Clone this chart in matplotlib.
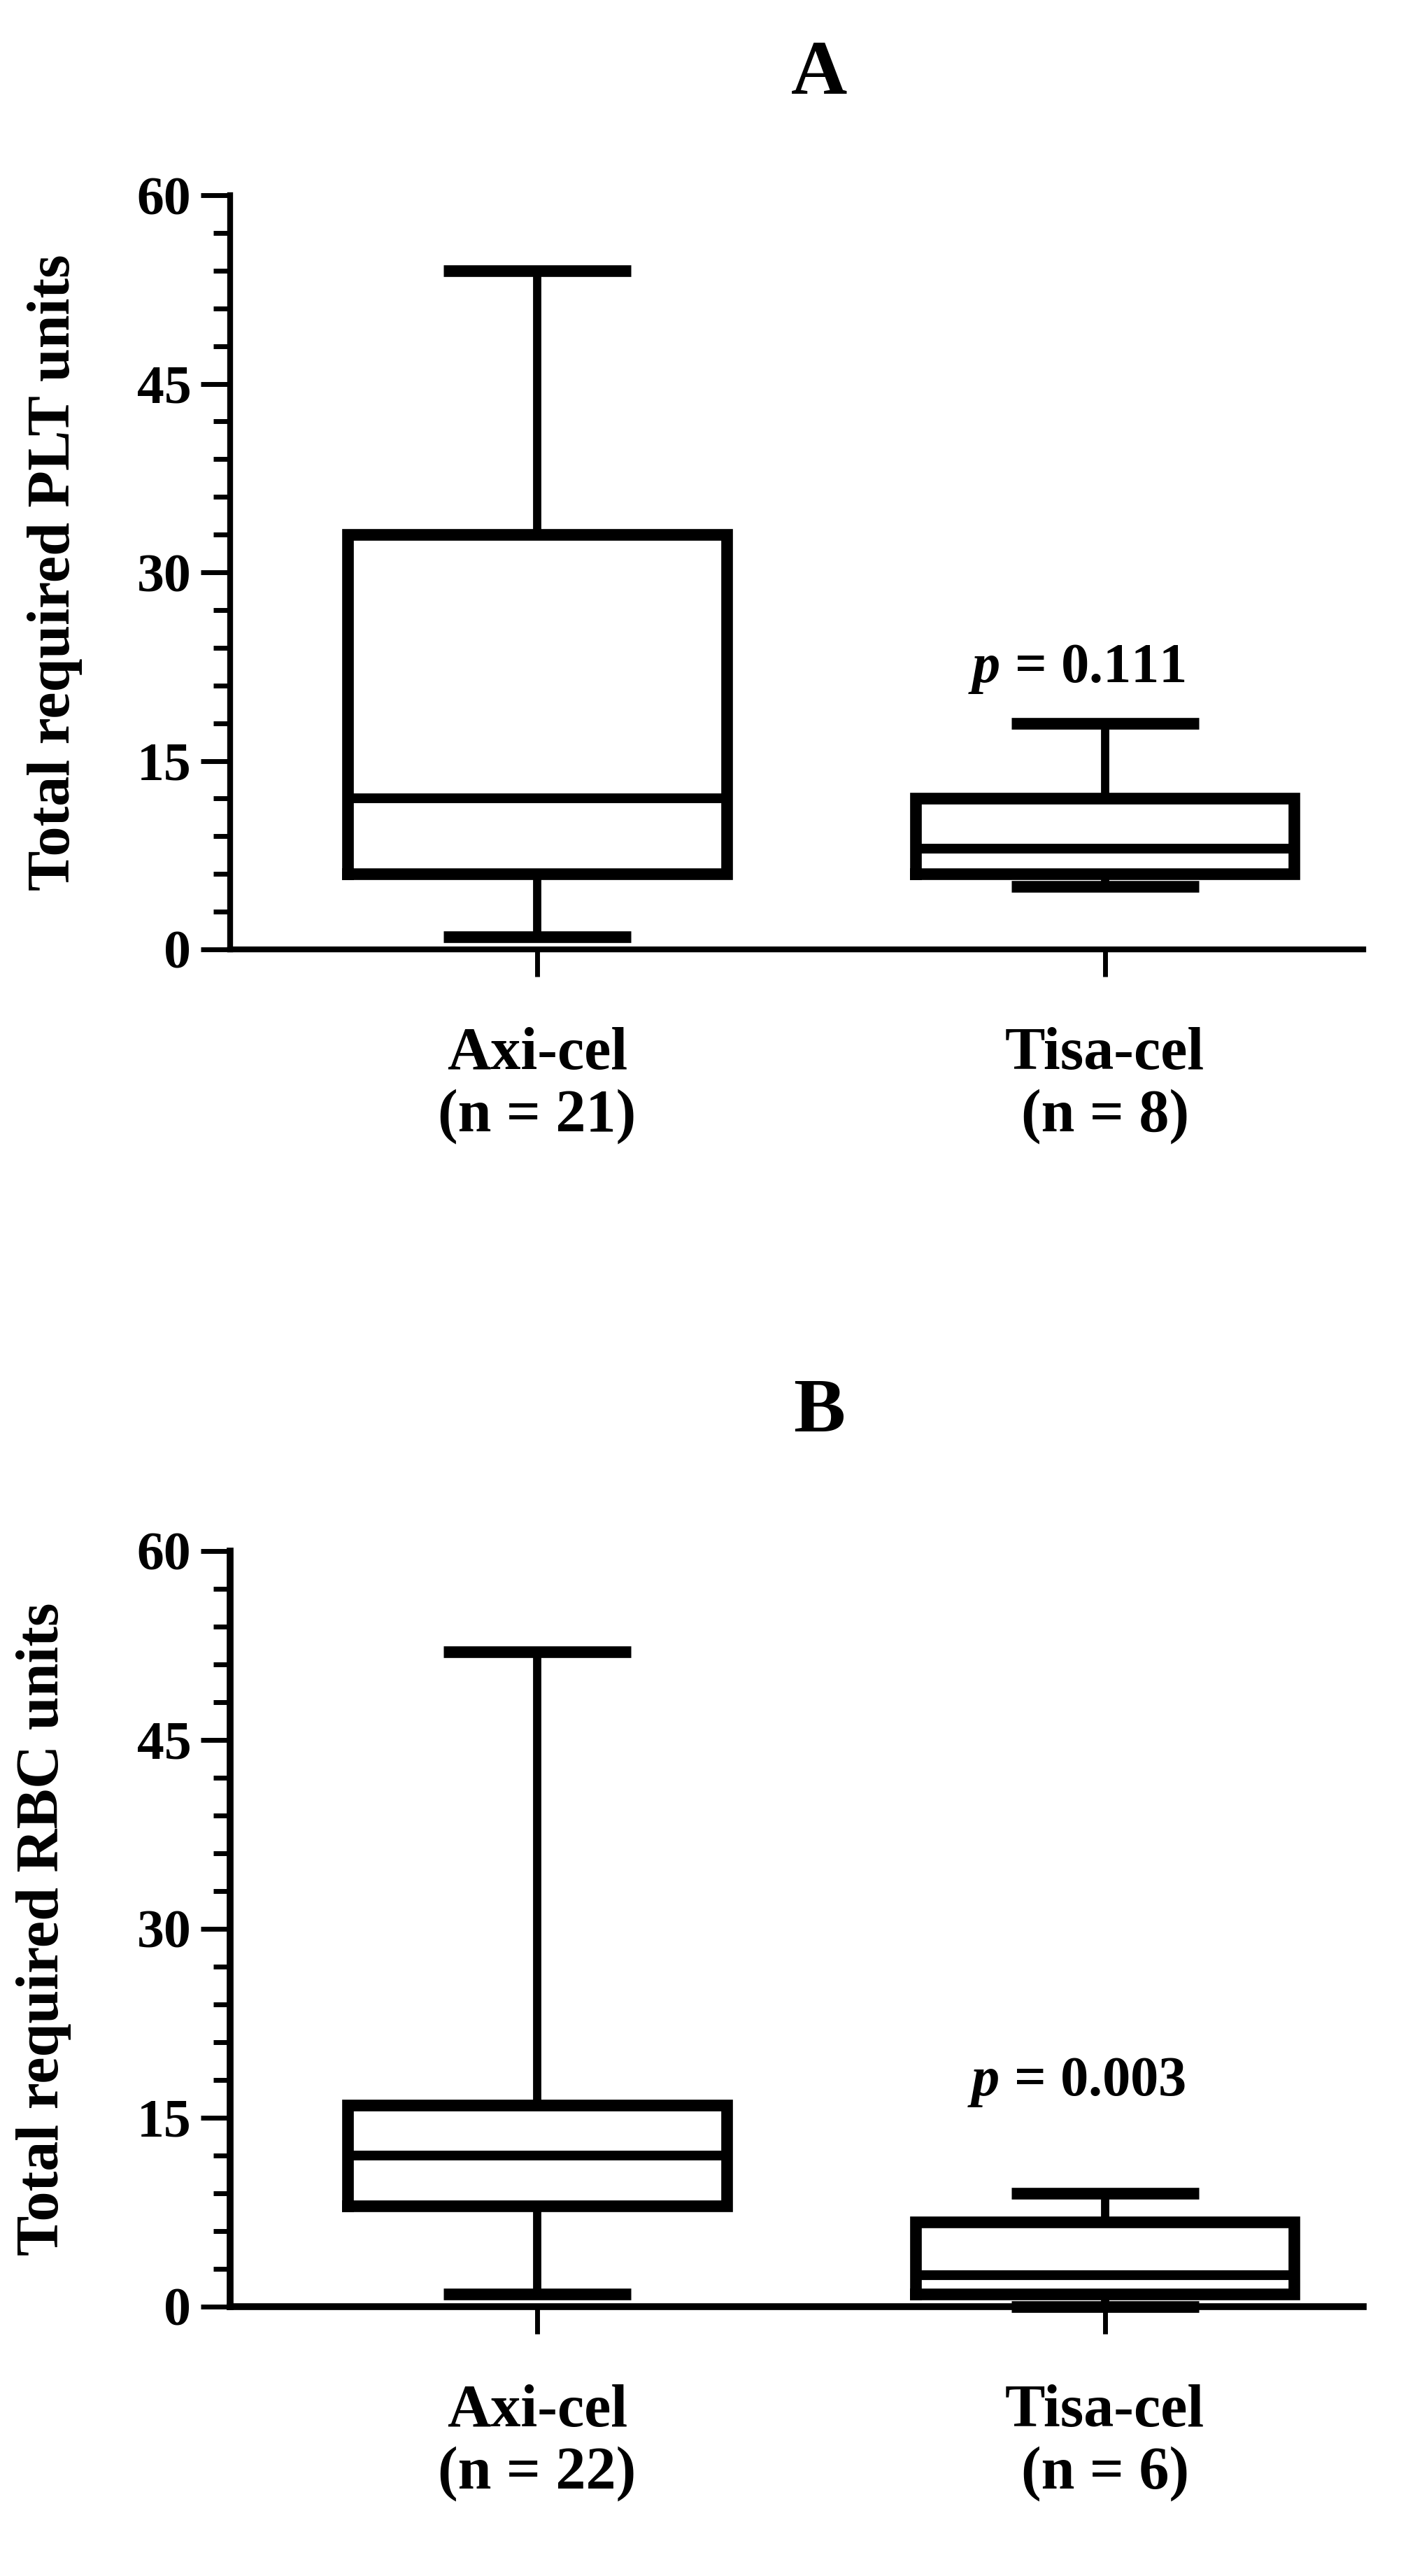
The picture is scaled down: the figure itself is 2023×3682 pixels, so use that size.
import matplotlib
matplotlib.use("Agg")
import matplotlib.pyplot as plt
from matplotlib.ticker import MultipleLocator

plt.rcParams['font.family'] = ['Liberation Serif', 'DejaVu Serif']
plt.rcParams['mathtext.fontset'] = 'custom'
plt.rcParams['mathtext.rm'] = 'Liberation Serif:bold'
plt.rcParams['mathtext.it'] = 'Liberation Serif:italic:bold'
plt.rcParams['mathtext.bf'] = 'Liberation Serif:bold'

# ---------------- data ----------------
categories_plt = ["Axi-cel\n(n = 21)", "Tisa-cel\n(n = 8)"]
plt_whislo = [1, 5]
plt_q1 = [6, 6]
plt_med = [12, 8]
plt_q3 = [33, 12]
plt_whishi = [54, 18]
plt_pvalue = "0.111"

categories_rbc = ["Axi-cel\n(n = 22)", "Tisa-cel\n(n = 6)"]
rbc_whislo = [1, 0]
rbc_q1 = [8, 1]
rbc_med = [12, 2.5]
rbc_q3 = [16, 6.75]
rbc_whishi = [52, 9]
rbc_pvalue = "0.003"

panel_titles = ["A", "B"]
y_labels = ["Total required PLT units", "Total required RBC units"]
y_ticks = [0, 15, 30, 45, 60]

# ---------------- figure ----------------
W, H = 2024, 3682
DPI = 100
fig = plt.figure(figsize=(W / DPI, H / DPI), dpi=DPI)

def ax_rect(left_px, right_px, top_px, bottom_px):
    return [left_px / W, 1 - bottom_px / H, (right_px - left_px) / W, (bottom_px - top_px) / H]

axA = fig.add_axes(ax_rect(329, 1949, 279, 1357))
axB = fig.add_axes(ax_rect(329, 1949, 2217, 3297))

panels = [
    (axA, categories_plt, plt_whislo, plt_q1, plt_med, plt_q3, plt_whishi, plt_pvalue, 22.3, 1.16, -0.130),
    (axB, categories_rbc, rbc_whislo, rbc_q1, rbc_med, rbc_q3, rbc_whishi, rbc_pvalue, 17.8, 1.183, -0.140),
]

for i, (ax, cats, wlo, q1, med, q3, whi, pval, p_y, title_y, ylab_x) in enumerate(panels):
    stats = []
    for j in range(len(cats)):
        stats.append(dict(med=med[j], q1=q1[j], q3=q3[j], whislo=wlo[j], whishi=whi[j],
                          label=cats[j]))
    positions = [1, 2]
    ax.bxp(stats, positions=positions, widths=0.667, capwidths=0.33, showfliers=False,
           boxprops=dict(color='black', linewidth=12, solid_joinstyle='miter'),
           medianprops=dict(color='black', linewidth=10, solid_capstyle='butt'),
           whiskerprops=dict(color='black', linewidth=8.5),
           capprops=dict(color='black', linewidth=12, solid_capstyle='butt'),
           manage_ticks=False)
    for ln in ax.lines:
        ln.set_clip_on(False)

    ax.set_xlim(0.459, 2.455)
    ax.set_ylim(0, 60)
    ax.set_xticks(positions)
    ax.set_xticklabels(cats, fontsize=62, fontweight='bold', linespacing=1.15)
    ax.set_yticks(y_ticks)
    ax.set_yticklabels([str(t) for t in y_ticks], fontsize=56, fontweight='bold')
    ax.yaxis.set_minor_locator(MultipleLocator(3))

    for s in ['top', 'right']:
        ax.spines[s].set_visible(False)
    for s in ['left', 'bottom']:
        ax.spines[s].set_linewidth(6 if i == 0 else 7)
        ax.spines[s].set_color('black')

    ax.tick_params(axis='y', which='major', length=30, width=5, pad=10, direction='out')
    ax.tick_params(axis='y', which='minor', length=17, width=5, direction='out')
    ax.tick_params(axis='x', which='major', length=28, width=5, pad=52, direction='out')

    ax.set_ylabel(y_labels[i], fontsize=62, fontweight='bold')
    ax.yaxis.set_label_coords(ylab_x, 0.5)

    ax.text(1.95, p_y, r"$p$ = " + pval, fontsize=58, fontweight='bold', ha='center', va='center')
    ax.text(0.52, title_y, panel_titles[i], transform=ax.transAxes, fontsize=80,
            fontweight='bold', ha='center', va='center')

fig.savefig("out.png", dpi=DPI, facecolor='white')
